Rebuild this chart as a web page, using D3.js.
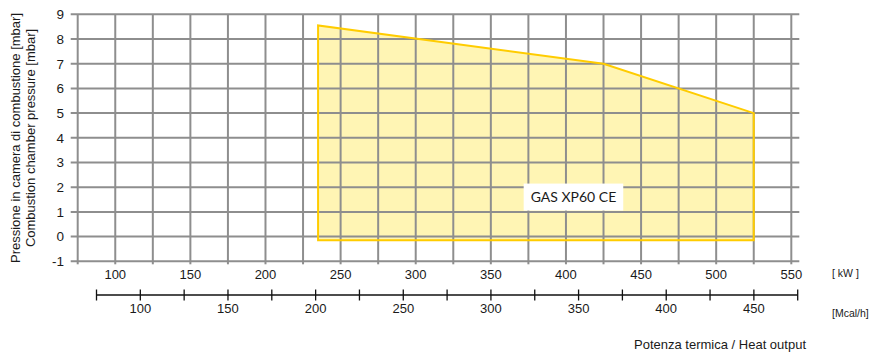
<!DOCTYPE html>
<html><head><meta charset="utf-8">
<script src="https://cdn.jsdelivr.net/npm/d3@7"></script>
<style>
html,body{margin:0;padding:0;background:#fff;}
svg{display:block;}
text{font-family:"Liberation Sans",Arial,sans-serif;fill:#1a1a1a;}
</style></head>
<body>
<script>
// ---- data ----
const kwGrid = d3.range(75, 551, 25);             // vertical grid lines (kW)
const kwLabels = [100,150,200,250,300,350,400,450,500,550];
const mcalTicks = d3.range(75, 476, 25);         // Mcal/h axis ticks
const mcalLabels = [100,150,200,250,300,350,400,450];
const pressureTicks = [-1,0,1,2,3,4,5,6,7,8,9];
const curveKW   = [235, 235, 425, 525, 525];
const curveMbar = [-0.15, 8.55, 7.0, 5.0, -0.15];
const seriesName = "GAS XP60 CE";
const labelPos = {kw: 405, mbar: 1.6};
const mcalPerKW = 0.857;
const yTitle1 = "Pressione in camera di combustione [mbar]";
const yTitle2 = "Combustion chamber pressure [mbar]";
const xTitle = "Potenza termica / Heat output";

// ---- layout ----
const W = 876, H = 354;
const x = d3.scaleLinear().domain([75, 550]).range([77.7, 791.3]);
const y = d3.scaleLinear().domain([-1, 9]).range([261.3, 14.3]);
const xm = d3.scaleLinear().domain([75, 475]).range([x(75/mcalPerKW), x(475/mcalPerKW)]);

const svg = d3.select("body").append("svg").attr("width", W).attr("height", H);

// polygon fill
const pts = curveKW.map((k,i)=>[x(k), y(curveMbar[i])]);
svg.append("path")
  .attr("d", d3.line()(pts) + "Z")
  .attr("fill", "#fff5b4").attr("stroke", "none");

// grid
const gridColor = "#8e8e8e";
const g = svg.append("g");
g.selectAll("line.h").data(pressureTicks).join("line")
  .attr("x1", x(75) - 7).attr("x2", x(550) + 8)
  .attr("y1", d=>y(d)).attr("y2", d=>y(d))
  .attr("stroke", gridColor).attr("stroke-width", 2);
g.selectAll("line.v").data(kwGrid).join("line")
  .attr("x1", d=>x(d)).attr("x2", d=>x(d))
  .attr("y1", y(9)).attr("y2", y(-1) + 3)
  .attr("stroke", gridColor).attr("stroke-width", 2);

// polygon outline
svg.append("path")
  .attr("d", d3.line()(pts) + "Z")
  .attr("fill", "none").attr("stroke", "#ffcc00").attr("stroke-width", 2);

// y tick labels
svg.selectAll("text.yt").data(pressureTicks).join("text")
  .attr("x", 64).attr("y", d=>y(d)).attr("dy", "0.36em")
  .attr("text-anchor", "end").style("font-size", "13.5px").text(d=>d);

// kW labels
svg.selectAll("text.xk").data(kwLabels).join("text")
  .attr("x", d=>x(d)).attr("y", 279)
  .attr("text-anchor", "middle").style("font-size", "13px").text(d=>d);
svg.append("text").attr("x", 832).attr("y", 277).style("font-size", "10.5px").text("[ kW ]");

// Mcal axis
const ma = svg.append("g");
ma.append("line").attr("x1", xm(75)).attr("x2", xm(475)).attr("y1", 295).attr("y2", 295)
  .attr("stroke", "#111").attr("stroke-width", 1.3);
ma.selectAll("line.t").data(mcalTicks).join("line")
  .attr("x1", d=>xm(d)).attr("x2", d=>xm(d)).attr("y1", 289.5).attr("y2", 300.5)
  .attr("stroke", "#111").attr("stroke-width", 1.3);
ma.selectAll("text").data(mcalLabels).join("text")
  .attr("x", d=>xm(d)).attr("y", 313)
  .attr("text-anchor", "middle").style("font-size", "13px").text(d=>d);
svg.append("text").attr("x", 832).attr("y", 317).style("font-size", "10.5px").text("[Mcal/h]");

// axis titles
svg.append("text").attr("transform", "translate(20,138) rotate(-90)")
  .attr("text-anchor", "middle").style("font-size", "13px").text(yTitle1);
svg.append("text").attr("transform", "translate(35,138) rotate(-90)")
  .attr("text-anchor", "middle").style("font-size", "13px").text(yTitle2);
svg.append("text").attr("x", 806).attr("y", 349)
  .attr("text-anchor", "end").style("font-size", "13px").text(xTitle);

// series label
const lx = x(labelPos.kw), ly = y(labelPos.mbar);
const lt = svg.append("text").attr("x", lx).attr("y", ly).attr("dy", "0.36em")
  .attr("text-anchor", "middle")
  .style("font-family", "Lato, 'Open Sans', sans-serif").style("font-size", "14px")
  .text(seriesName);
const bb = lt.node().getBBox();
svg.insert("rect", function(){return lt.node();})
  .attr("x", bb.x - 7).attr("y", ly - 13.5).attr("width", bb.width + 14).attr("height", 27)
  .attr("fill", "#fff");
</script>
</body></html>
